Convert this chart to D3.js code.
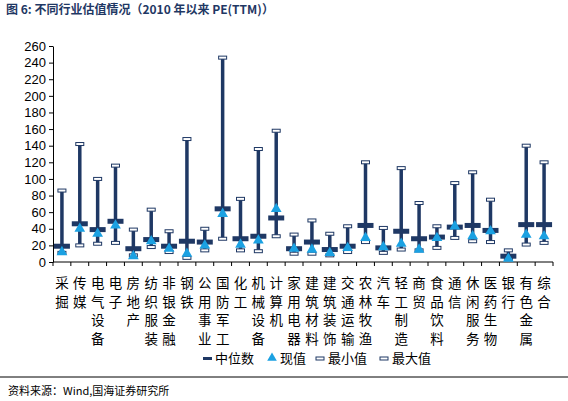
<!DOCTYPE html>
<html lang="zh">
<head>
<meta charset="UTF-8">
<script src="https://d3js.org/d3.v7.min.js"></script>
<style>
  body { margin: 0; background: #fff; }
  text { font-family: "Noto Sans CJK SC", "Liberation Sans", sans-serif; }
</style>
</head>
<body>
<svg id="chart" width="568" height="401"></svg>
<script>
// industry names and PE stats
const categories = ["采掘","传媒","电气设备","电子","房地产","纺织服装","非银金融","钢铁","公用事业","国防军工","化工","机械设备","计算机","家用电器","建筑材料","建筑装饰","交通运输","农林牧渔","汽车","轻工制造","商贸","食品饮料","通信","休闲服务","医药生物","银行","有色金属","综合"];
const maxVals    = [86,142,100,116,39,63,37,148,40,246,76,136,158,33,50,34,43,120,41,113,71,43,95,108,75,14,140,120];
const medianVals = [19,46,39,49,16,27,19,25,24,64,28,31,53,16,24,15,19,44,17,37,28,30,42,44,38,7,45,45];
const currentVals= [12,40,34,44,7,25,16,10,20,58,21,26,64,16,15,11,17,29,18,22,15,29,43,31,37,4,33,31];
const minVals    = [11,20,22,23,8,18,12,5,14,28,14,13,31,10,10,8,12,24,11,15,14,17,29,25,24,4,21,23];
const yTicks = d3.range(0, 261, 20);

const dark = "#1f3864", light = "#1ba1e2";
const svg = d3.select("#chart");

svg.append("text").attr("x", 6).attr("y", 14)
  .attr("font-size", 12).attr("font-weight", "bold").attr("fill", "#1f3864")
  .text("图 6:  不同行业估值情况（2010 年以来 PE(TTM)）");

const x = d3.scaleBand().domain(categories).range([53, 553]);
const y = d3.scaleLinear().domain([0, 260]).range([262, 46]);

// y axis
const ya = svg.append("g").attr("transform", "translate(53,0)")
  .call(d3.axisLeft(y).tickValues(yTicks).tickSize(4).tickSizeOuter(0));
ya.selectAll("text").attr("font-size", 13).attr("fill", "#000")
  .style("font-family", "Liberation Sans, Arial, sans-serif");
ya.select(".domain").attr("stroke", "#000");

// x axis with ticks between categories
svg.append("line").attr("x1", 53).attr("x2", 553).attr("y1", 262).attr("y2", 262).attr("stroke", "#000");
svg.append("g").selectAll("line").data(d3.range(categories.length + 1)).join("line")
  .attr("x1", i => 53 + i * x.step()).attr("x2", i => 53 + i * x.step())
  .attr("y1", 262).attr("y2", 266).attr("stroke", "#000");

// vertical labels
const lab = svg.append("g");
categories.forEach(c => {
  c.split("").forEach((ch, j) => {
    lab.append("text").attr("x", x(c) + x.bandwidth() / 2).attr("y", 288 + j * 18.6)
      .attr("text-anchor", "middle").attr("font-size", 13.5).attr("fill", "#000").text(ch);
  });
});

const g = svg.append("g");
const cx = i => x(categories[i]) + x.bandwidth() / 2;
categories.forEach((c, i) => {
  g.append("line").attr("x1", cx(i)).attr("x2", cx(i))
    .attr("y1", y(maxVals[i])).attr("y2", y(minVals[i]))
    .attr("stroke", dark).attr("stroke-width", 3.5);
});
// min / max markers
[maxVals, minVals].forEach(arr => {
  g.selectAll(null).data(arr).join("rect")
    .attr("x", (d, i) => cx(i) - 4).attr("y", d => y(d) - 1.5)
    .attr("width", 8).attr("height", 3)
    .attr("fill", "#fff").attr("stroke", dark).attr("stroke-width", 1);
});
// median
g.selectAll(null).data(medianVals).join("rect")
  .attr("x", (d, i) => cx(i) - 8).attr("y", d => y(d) - 2.5)
  .attr("width", 16).attr("height", 5).attr("fill", dark);
// current
const tri = d3.symbol().type(d3.symbolTriangle).size(50);
g.selectAll(null).data(currentVals).join("path")
  .attr("d", tri).attr("transform", (d, i) => `translate(${cx(i)},${y(d)})`)
  .attr("fill", light);

// legend
const lg = svg.append("g").attr("transform", "translate(0,363)");
const items = [["m","中位数",203],["t","现值",268],["n","最小值",316],["x","最大值",380]];
items.forEach(([k, t, lx]) => {
  if (k === "m") lg.append("rect").attr("x", lx).attr("y", -6).attr("width", 9).attr("height", 3).attr("fill", dark);
  else if (k === "t") lg.append("path").attr("d", d3.symbol().type(d3.symbolTriangle).size(40)).attr("transform", `translate(${lx + 4},-5)`).attr("fill", light);
  else lg.append("rect").attr("x", lx).attr("y", -6).attr("width", 8).attr("height", 3).attr("fill", "#fff").attr("stroke", dark);
  lg.append("text").attr("x", lx + 12).attr("y", 0).attr("font-size", 13).attr("fill", "#000").text(t);
});

svg.append("line").attr("x1", 0).attr("x2", 568).attr("y1", 377).attr("y2", 377)
  .attr("stroke", "#000").attr("stroke-width", 1);
svg.append("text").attr("x", 8).attr("y", 395).attr("font-size", 11).attr("fill", "#000")
  .text("资料来源：Wind,国海证券研究所");
</script>
</body>
</html>
